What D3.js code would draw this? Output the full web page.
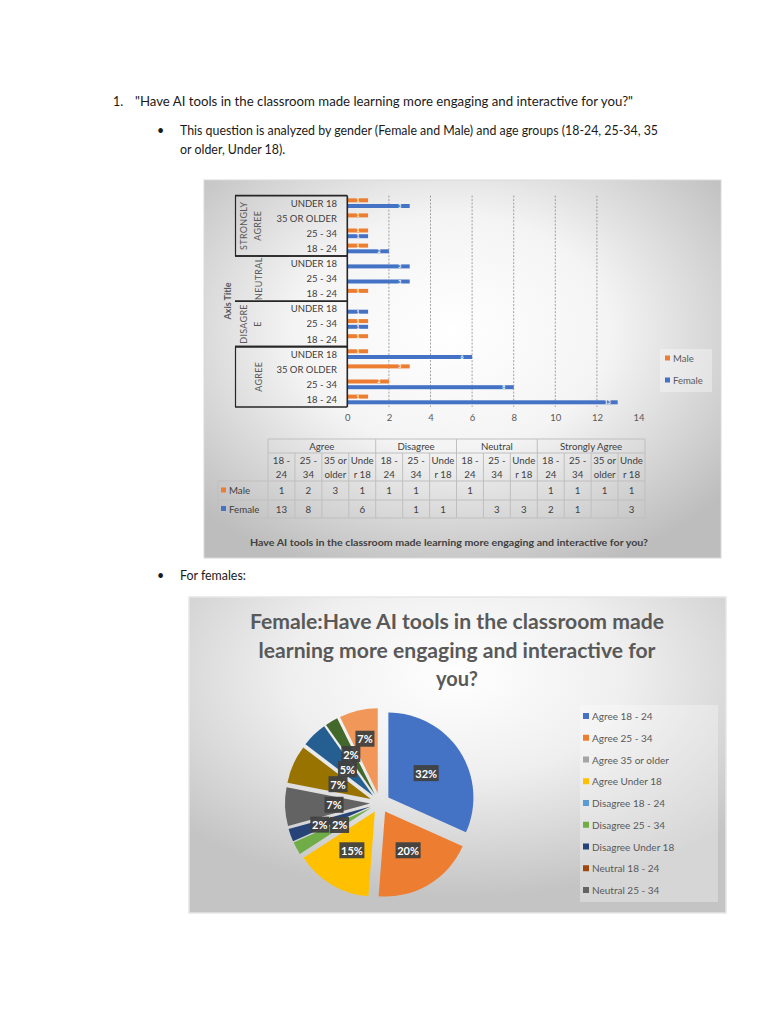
<!DOCTYPE html>
<html><head><meta charset="utf-8">
<script src="https://cdn.jsdelivr.net/npm/d3@7"></script>
<style>body{margin:0;background:#fff}svg{display:block}</style>
</head><body><svg id="c" width="768" height="1024"></svg>
<script>
// ---------- DATA ----------
const responseGroups = ["Agree","Agree","Agree","Agree","Disagree","Disagree","Disagree","Neutral","Neutral","Neutral","Strongly Agree","Strongly Agree","Strongly Agree","Strongly Agree"];
const ageGroups = ["18 - 24","25 - 34","35 or older","Under 18","18 - 24","25 - 34","Under 18","18 - 24","25 - 34","Under 18","18 - 24","25 - 34","35 or older","Under 18"];
const maleValues   = [1,2,3,1,1,1,null,1,null,null,1,1,1,1];
const femaleValues = [13,8,null,6,null,1,1,null,3,3,2,1,null,3];
const xTicks = [0,2,4,6,8,10,12,14];
const seriesNames = ["Male","Female"];
const pieLegendCount = 9;
const questionText = "Have AI tools in the classroom made learning more engaging and interactive for you?";

// ---------- SETUP ----------
const svg = d3.select("#c");
const FONT = "Lato, 'Open Sans', sans-serif";
const seriesColor = {Male:"#ED7D31", Female:"#4472C4"};
const pieColors = ["#4472C4","#ED7D31","#A5A5A5","#FFC000","#5B9BD5","#70AD47","#264478","#9E480E","#636363","#997300","#255E91","#43682B","#698ED0","#F1975A"];
const defs = svg.append("defs");
function radial(id, cx, cy, r, stops){
  const g = defs.append("radialGradient").attr("id",id).attr("cx",cx).attr("cy",cy).attr("r",r);
  stops.forEach(s=>g.append("stop").attr("offset",s[0]).attr("stop-color",s[1]));
}
radial("bg1","48%","40%","68%",[[0,"#ffffff"],[0.45,"#f4f4f4"],[1,"#bdbdbd"]]);
radial("bg2","50%","25%","70%",[[0,"#ffffff"],[0.45,"#efefef"],[1,"#c4c4c4"]]);

// ---------- DOCUMENT TEXT ----------
const doc = svg.append("g").attr("font-family",FONT).attr("fill","#1a1a1a").attr("font-size",12.4);
doc.append("text").attr("x",113).attr("y",105.5).text("1.");
doc.append("text").attr("x",135).attr("y",105.5).attr("textLength",498).attr("lengthAdjust","spacingAndGlyphs").text("\"" + questionText + "\"");
doc.append("text").attr("x",157).attr("y",134.5).text("•");
doc.append("text").attr("x",180).attr("y",134.5).attr("textLength",478).attr("lengthAdjust","spacingAndGlyphs").text("This question is analyzed by gender (Female and Male) and age groups (18-24, 25-34, 35");
doc.append("text").attr("x",180).attr("y",153.5).text("or older, Under 18).");
doc.append("text").attr("x",157).attr("y",579.5).text("•");
doc.append("text").attr("x",180).attr("y",579.5).text("For females:");

// ---------- BAR CHART ----------
const bc = svg.append("g").attr("font-family",FONT);
bc.append("rect").attr("x",204).attr("y",180).attr("width",517).attr("height",378).attr("fill","url(#bg1)").attr("stroke","#d9d9d9");

const nCat = ageGroups.length;
const idx = d3.range(nCat);
const x = d3.scaleLinear().domain([0,14]).range([347.3,638.5]);
const y = d3.scaleBand().domain(idx.slice().reverse()).range([195.6,407]);
const ySub = d3.scaleBand().domain(seriesNames).range([2.7,12.4]).paddingInner(0.3);

// gridlines
bc.append("g").selectAll("line").data(xTicks.filter(t=>t>0 && t<14)).join("line")
  .attr("x1",d=>x(d)).attr("x2",d=>x(d)).attr("y1",195.6).attr("y2",407)
  .attr("stroke","#8c8c8c").attr("stroke-width",0.8).attr("stroke-dasharray","2,1.5");

// x axis labels
const xAxis = d3.axisBottom(x).tickValues(xTicks).tickSize(0).tickPadding(0);
const xg = bc.append("g").attr("transform","translate(0,414)").call(xAxis);
xg.select(".domain").remove();
xg.selectAll("text").attr("font-family",FONT).attr("font-size",9.5).attr("fill","#595959");

// bars
const barData = [];
idx.forEach(i=>{
  [["Male",maleValues[i]],["Female",femaleValues[i]]].forEach(([s,v])=>{ if(v!=null) barData.push({i,s,v}); });
});
const bars = bc.append("g");
bars.selectAll("rect").data(barData).join("rect")
  .attr("x",x(0)).attr("y",d=>y(d.i)+ySub(d.s)).attr("width",d=>x(d.v)-x(0)).attr("height",ySub.bandwidth())
  .attr("fill",d=>seriesColor[d.s]);
bars.selectAll("text").data(barData).join("text")
  .attr("x",d=>x(d.v)-10).attr("y",d=>y(d.i)+ySub(d.s)+ySub.bandwidth()/2)
  .attr("text-anchor","middle").attr("dominant-baseline","central")
  .attr("font-size",5.2).attr("font-weight","bold").attr("fill","#ffffff").text(d=>d.v);

// category labels
bc.append("g").selectAll("text").data(idx).join("text")
  .attr("x",337).attr("y",d=>y(d)+y.bandwidth()/2).attr("text-anchor","end").attr("dominant-baseline","central")
  .attr("font-size",9.5).attr("fill","#404040").text(d=>ageGroups[d].toUpperCase());

// group brackets
const groupNames = Array.from(new Set(responseGroups));
const groupInfo = groupNames.map(g=>{
  const members = idx.filter(i=>responseGroups[i]===g);
  const top = d3.min(members,i=>y(i)), bottom = d3.max(members,i=>y(i)+y.bandwidth());
  return {g, top, bottom};
});
const lineCol = "#262626";
const br = bc.append("g").attr("stroke",lineCol).attr("stroke-width",1.6);
br.append("line").attr("x1",x(0)).attr("x2",x(0)).attr("y1",195.6).attr("y2",407);
groupInfo.forEach(gi=>{
  br.append("line").attr("x1",235).attr("x2",x(0)).attr("y1",gi.top).attr("y2",gi.top);
  br.append("line").attr("x1",235).attr("x2",x(0)).attr("y1",gi.bottom).attr("y2",gi.bottom);
});
[groupInfo[0], groupInfo[3]].forEach(gi=>{
  br.append("line").attr("x1",235.5).attr("x2",235.5).attr("y1",gi.top).attr("y2",gi.bottom).attr("stroke-width",1.2);
});
function groupLines(g){
  const u = g.toUpperCase();
  if (u.includes(" ")) return u.split(" ");
  if (u.length > 7) return [u.slice(0,7), u.slice(7)];
  return [u];
}
groupInfo.forEach(gi=>{
  const lines = groupLines(gi.g);
  const cy = (gi.top+gi.bottom)/2;
  const xs = lines.length===2 ? [243,257] : [258];
  lines.forEach((t,k)=>{
    bc.append("text").attr("transform",`translate(${xs[k]},${cy}) rotate(-90)`)
      .attr("text-anchor","middle").attr("dominant-baseline","central")
      .attr("font-size",9).attr("fill","#595959").attr("letter-spacing",0.3).text(t);
  });
});
bc.append("text").attr("transform",`translate(227,301) rotate(-90)`).attr("text-anchor","middle").attr("dominant-baseline","central")
  .attr("font-size",9).attr("font-weight","bold").attr("fill","#595959").text("Axis Title");

// legend
bc.append("rect").attr("x",660).attr("y",349).attr("width",52).attr("height",43).attr("fill","#ffffff").attr("opacity",0.35);
seriesNames.forEach((s,k)=>{
  const ly = 358 + k*22;
  bc.append("rect").attr("x",665).attr("y",ly-2.5).attr("width",5).attr("height",5).attr("fill",seriesColor[s]);
  bc.append("text").attr("x",673).attr("y",ly).attr("dominant-baseline","central").attr("font-size",9.5).attr("fill","#595959").text(s);
});

// data table
const tx0 = 268, tx1 = 645, cw = (tx1-tx0)/nCat;
const rowY = [439,453,481,500,518];
const tg = bc.append("g");
const tl = tg.append("g").attr("stroke","#bfbfbf").attr("stroke-width",1);
tl.append("line").attr("x1",tx0).attr("x2",tx1).attr("y1",rowY[0]).attr("y2",rowY[0]);
tl.append("line").attr("x1",tx0).attr("x2",tx1).attr("y1",rowY[1]).attr("y2",rowY[1]);
[2,3,4].forEach(r=>tl.append("line").attr("x1",218).attr("x2",tx1).attr("y1",rowY[r]).attr("y2",rowY[r]));
tl.append("line").attr("x1",218).attr("x2",218).attr("y1",rowY[2]).attr("y2",rowY[4]);
d3.range(nCat+1).forEach(c=>{
  const isGroupEdge = c===0 || c===nCat || responseGroups[c]!==responseGroups[c-1];
  tl.append("line").attr("x1",tx0+c*cw).attr("x2",tx0+c*cw).attr("y1",isGroupEdge?rowY[0]:rowY[1]).attr("y2",rowY[4]);
});
const tt = tg.append("g").attr("font-size",9.7).attr("fill","#404040").attr("text-anchor","middle").attr("dominant-baseline","central");
groupNames.forEach(g=>{
  const members = idx.filter(i=>responseGroups[i]===g);
  const cx = tx0 + (d3.min(members)+ (d3.max(members)+1))/2*cw;
  tt.append("text").attr("x",cx).attr("y",446).text(g);
});
function wrapAge(s){
  if (s.includes(" - ")) { const p=s.split(" - "); return [p[0]+" -", p[1]]; }
  if (s.startsWith("Under")) return ["Unde","r"+s.slice(5)];
  const i = s.indexOf(" ", s.indexOf(" ")+1); return [s.slice(0,i), s.slice(i+1)];
}
idx.forEach(i=>{
  const cx = tx0 + (i+0.5)*cw, w = wrapAge(ageGroups[i]);
  tt.append("text").attr("x",cx).attr("y",460).text(w[0]);
  tt.append("text").attr("x",cx).attr("y",473.5).text(w[1]);
  if (maleValues[i]!=null) tt.append("text").attr("x",cx).attr("y",490).text(maleValues[i]);
  if (femaleValues[i]!=null) tt.append("text").attr("x",cx).attr("y",508.5).text(femaleValues[i]);
});
[["Male",490],["Female",508.5]].forEach(([s,ry])=>{
  tg.append("rect").attr("x",221).attr("y",ry-2.5).attr("width",5).attr("height",5).attr("fill",seriesColor[s]);
  tg.append("text").attr("x",229).attr("y",ry).attr("dominant-baseline","central").attr("font-size",9.7).attr("fill","#404040").text(s);
});
bc.append("text").attr("x",449).attr("y",542).attr("text-anchor","middle").attr("dominant-baseline","central")
  .attr("font-size",9.5).attr("font-weight","bold").attr("fill","#404040").attr("textLength",398).attr("lengthAdjust","spacingAndGlyphs").text(questionText);

// ---------- PIE CHART ----------
const pc = svg.append("g").attr("font-family",FONT);
pc.append("rect").attr("x",189).attr("y",597).attr("width",537).attr("height",316).attr("fill","url(#bg2)").attr("stroke","#e6e6e6").attr("stroke-width",1.5);
const titleLines = ["Female:Have AI tools in the classroom made","learning more engaging and interactive for","you?"];
const titleLens = [414,397,null];
titleLines.forEach((t,k)=>{
  const el = pc.append("text").attr("x",457).attr("y",629+k*28.5).attr("text-anchor","middle")
    .attr("font-size",20).attr("font-weight","bold").attr("fill","#595959").text(t);
  if (titleLens[k]) el.attr("textLength",titleLens[k]).attr("lengthAdjust","spacingAndGlyphs");
});
const pieVals = femaleValues.map(v=>v==null?0:v);
const total = d3.sum(pieVals);
const pieGen = d3.pie().sort(null).value(d=>d).startAngle(0).endAngle(2*Math.PI);
const arcs = pieGen(pieVals).map((a,i)=>Object.assign(a,{i}));
const R = 85, explode = 10, pcx = 380, pcy = 803;
const arcGen = d3.arc().innerRadius(0).outerRadius(R);
const pg = pc.append("g").attr("transform",`translate(${pcx},${pcy})`);
const visible = arcs.filter(a=>a.value>0);
pg.selectAll("path").data(visible).join("path")
  .attr("d",arcGen)
  .attr("transform",a=>{const m=(a.startAngle+a.endAngle)/2; return `translate(${explode*Math.sin(m)},${-explode*Math.cos(m)})`;})
  .attr("fill",a=>pieColors[a.i]);
const fmt = d3.format(".0%");
const lg = pg.append("g");
const placed = [];
visible.forEach(a=>{
  const m=(a.startAngle+a.endAngle)/2, p = a.value/total;
  const txt = fmt(p);
  const bw = txt.length===3 ? 25 : 19, bh = 15;
  let rr = p>=0.1 ? 55 : 46, lx, ly;
  for (let step=0; step<40; step++){
    lx = rr*Math.sin(m); ly = -rr*Math.cos(m);
    const hit = placed.some(q=>Math.abs(q.x-lx) < (q.w+bw)/2 && Math.abs(q.y-ly) < bh);
    if (!hit) break;
    rr += 1;
  }
  placed.push({x:lx,y:ly,w:bw});
  lg.append("rect").attr("x",lx-bw/2).attr("y",ly-8).attr("width",bw).attr("height",16).attr("fill","#404040").attr("opacity",0.95);
  lg.append("text").attr("x",lx).attr("y",ly).attr("text-anchor","middle").attr("dominant-baseline","central")
    .attr("font-size",11).attr("font-weight","bold").attr("fill","#ffffff").text(txt);
});
// pie legend
pc.append("rect").attr("x",580).attr("y",705).attr("width",138).attr("height",197).attr("fill","#ffffff").attr("opacity",0.3);
idx.slice(0,pieLegendCount).forEach((i,k)=>{
  const ly = 716 + k*21.75;
  pc.append("rect").attr("x",583).attr("y",ly-3).attr("width",6).attr("height",6).attr("fill",pieColors[i]);
  pc.append("text").attr("x",592).attr("y",ly).attr("dominant-baseline","central").attr("font-size",10).attr("fill","#595959")
    .text(responseGroups[i] + " " + ageGroups[i]);
});
</script></body></html>
